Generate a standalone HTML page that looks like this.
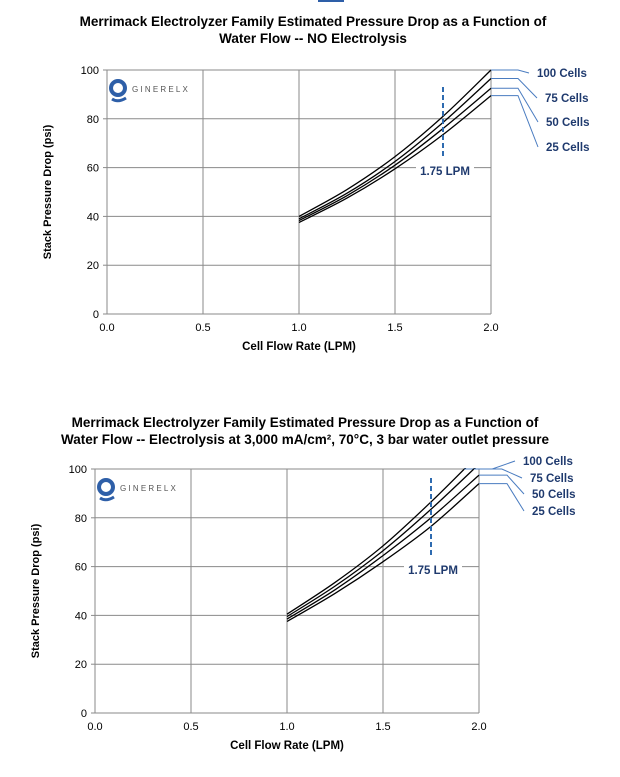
<!DOCTYPE html>
<html><head><meta charset="utf-8"><style>
body{margin:0;background:#fff;width:620px;height:777px;overflow:hidden;font-family:"Liberation Sans",Arial,sans-serif}
svg{display:block}
</style></head><body>
<svg id="s" width="620" height="777" font-family="Liberation Sans, Arial, sans-serif">
<rect x="318" y="-6" width="26" height="8" fill="#2e5fa8"/>
</svg>
<script>
const xTicks=[0,0.5,1.0,1.5,2.0];
const yTicks=[0,20,40,60,80,100];
const series=["100 Cells","75 Cells","50 Cells","25 Cells"];
const flows=[1.0,1.25,1.5,1.75,2.0];
const top100=[40,51,64.5,81,100];
const top75=[39,49.5,62.5,78.5,96.5];
const top50=[38.3,48.5,61,76,92.5];
const top25=[37.5,47.5,59.5,73.5,89.5];
const bot100=[40.5,53.5,68.5,86.5,106];
const bot75=[39.5,52,66.5,83.5,102];
const bot50=[38.5,50.5,64.5,80,97.5];
const bot25=[37.5,49,62,76.5,94];
const refFlow=1.75;
const NS="http://www.w3.org/2000/svg";
const svg=document.getElementById('s');
function mk(t,a,p){const e=document.createElementNS(NS,t);for(const k in a)e.setAttribute(k,a[k]);(p||svg).appendChild(e);return e;}
function chart(cfg){
  const g=mk('g',{});
  
  
  const X=v=>cfg.x0+(v/2)*(cfg.x1-cfg.x0), Y=v=>cfg.y0-(v/100)*(cfg.y0-cfg.y1);
  cfg.title.forEach((t,i)=>{const e=mk('text',{x:cfg.tx,y:cfg.ty+i*17,'text-anchor':'middle','font-size':'13.5','font-weight':'bold',fill:'#000'},g);e.textContent=t;
    
    });
  yTicks.forEach(v=>{if(v>0){const l=mk('line',{x1:cfg.x0,x2:cfg.x1,y1:Y(v),y2:Y(v),stroke:'#8a8a8a','stroke-width':1},g);
    
    }
    const t=mk('text',{x:cfg.x0-8,y:Y(v)+4,'text-anchor':'end','font-size':'11',fill:'#000'},g);t.textContent=v;
    
    
    mk('line',{x1:cfg.x0-4,x2:cfg.x0,y1:Y(v),y2:Y(v),stroke:'#8a8a8a'},g);});
  xTicks.forEach(v=>{if(v>0){const l=mk('line',{x1:X(v),x2:X(v),y1:cfg.y1,y2:cfg.y0,stroke:'#8a8a8a'},g);
    
    }
    const t=mk('text',{x:X(v),y:cfg.y0+17,'text-anchor':'middle','font-size':'11',fill:'#000'},g);t.textContent=v.toFixed(1);
    
    });
  mk('line',{x1:cfg.x0,x2:cfg.x0,y1:cfg.y1,y2:cfg.y0,stroke:'#8a8a8a'},g);
  mk('line',{x1:cfg.x0,x2:cfg.x1,y1:cfg.y0,y2:cfg.y0,stroke:'#8a8a8a'},g);
  const xt=mk('text',{x:(cfg.x0+cfg.x1)/2,y:cfg.y0+36,'text-anchor':'middle','font-size':'11.5','font-weight':'bold'},g);xt.textContent='Cell  Flow Rate (LPM)';
  
  
  const yc=(cfg.y0+cfg.y1)/2;
  const yt=mk('text',{x:cfg.x0-56,y:yc,'text-anchor':'middle','font-size':'11','font-weight':'bold',transform:`rotate(-90 ${cfg.x0-56} ${yc})`},g);yt.textContent='Stack Pressure Drop (psi)';
  
  
  // logo
  const lg=mk('g',{},g);
  
  
  const lx=cfg.x0+11, ly=cfg.y1+18;
  mk('circle',{cx:lx,cy:ly,r:7,fill:'none',stroke:'#2e5fa8','stroke-width':4},lg);
  mk('path',{d:`M${lx-6} ${ly+11} Q${lx} ${ly+15} ${lx+8} ${ly+10}`,fill:'none',stroke:'#2e5fa8','stroke-width':3},lg);
  const lt=mk('text',{x:lx+14,y:ly+4,'font-size':'8','letter-spacing':'2.2',fill:'#555'},lg);lt.textContent='GINERELX';
  // clip
  const cid=cfg.id+'-clip';const cp=mk('clipPath',{id:cid},g);mk('rect',{x:cfg.x0,y:cfg.y1-1,width:cfg.x1-cfg.x0+1,height:cfg.y0-cfg.y1},cp);
  cfg.data.forEach((arr,i)=>{
    const pts=arr.map((v,j)=>[X(flows[j]),Y(v)]);
    let d=`M${pts[0][0]} ${pts[0][1]}`;
    for(let j=0;j<pts.length-1;j++){const p0=pts[j-1]||pts[j],p1=pts[j],p2=pts[j+1],p3=pts[j+2]||p2;
      d+=` C${p1[0]+(p2[0]-p0[0])/6} ${p1[1]+(p2[1]-p0[1])/6} ${p2[0]-(p3[0]-p1[0])/6} ${p2[1]-(p3[1]-p1[1])/6} ${p2[0]} ${p2[1]}`;}
    const dbl=mk('path',{d,fill:'none',stroke:'#000','stroke-width':1.3,'clip-path':`url(#${cid})`},g);
    
    
    const endV=Math.min(arr[arr.length-1],100);
    let ex=cfg.x1, ey=Y(endV);
    if(arr[arr.length-1]>100){const a=arr[arr.length-2],b=arr[arr.length-1];const f=flows[flows.length-2]+(100-a)/(b-a)*(flows[flows.length-1]-flows[flows.length-2]);ex=X(f);}
    const lbl=cfg.labels[i];
    mk('polyline',{points:`${ex},${ey} ${ex+cfg.lead},${ey} ${lbl[0]-8},${lbl[1]-4}`,fill:'none',stroke:'#4a7cc0','stroke-width':1},g);
    const t=mk('text',{x:lbl[0],y:lbl[1],'font-size':'11.5','font-weight':'bold',fill:'#1f3a6e'},g);t.textContent=series[i];
    
    
  });
  const rx=X(refFlow);
  const rl=mk('line',{x1:rx,x2:rx,y1:cfg.dash[0],y2:cfg.dash[1],stroke:'#2e6bb0','stroke-width':2,'stroke-dasharray':'5,3'},g);
  
  
  mk('rect',{x:rx-27,y:cfg.dash[1]+2,width:58,height:20,fill:'#fff'},g);
  const rt=mk('text',{x:rx+2,y:cfg.dash[1]+16,'text-anchor':'middle','font-size':'11.5','font-weight':'bold',fill:'#1f3a6e'},g);rt.textContent='1.75 LPM';
  
  
}
chart({id:'chart-no-electrolysis',x0:107,x1:491,y0:314,y1:70,tx:313,ty:26,title:['Merrimack Electrolyzer Family Estimated Pressure Drop as a Function of','Water Flow -- NO Electrolysis'],
  data:[top100,top75,top50,top25],labels:[[537,77],[545,102],[546,126],[546,151]],lead:27,dash:[87,159]});
chart({id:'chart-electrolysis',x0:95,x1:479,y0:713,y1:469,tx:305,ty:427,title:['Merrimack Electrolyzer Family Estimated Pressure Drop as a Function of','Water Flow -- Electrolysis at 3,000 mA/cm², 70°C, 3 bar water outlet pressure'],
  data:[bot100,bot75,bot50,bot25],labels:[[523,465],[530,482],[532,498],[532,515]],lead:28,dash:[478,558]});
</script>
</body></html>
